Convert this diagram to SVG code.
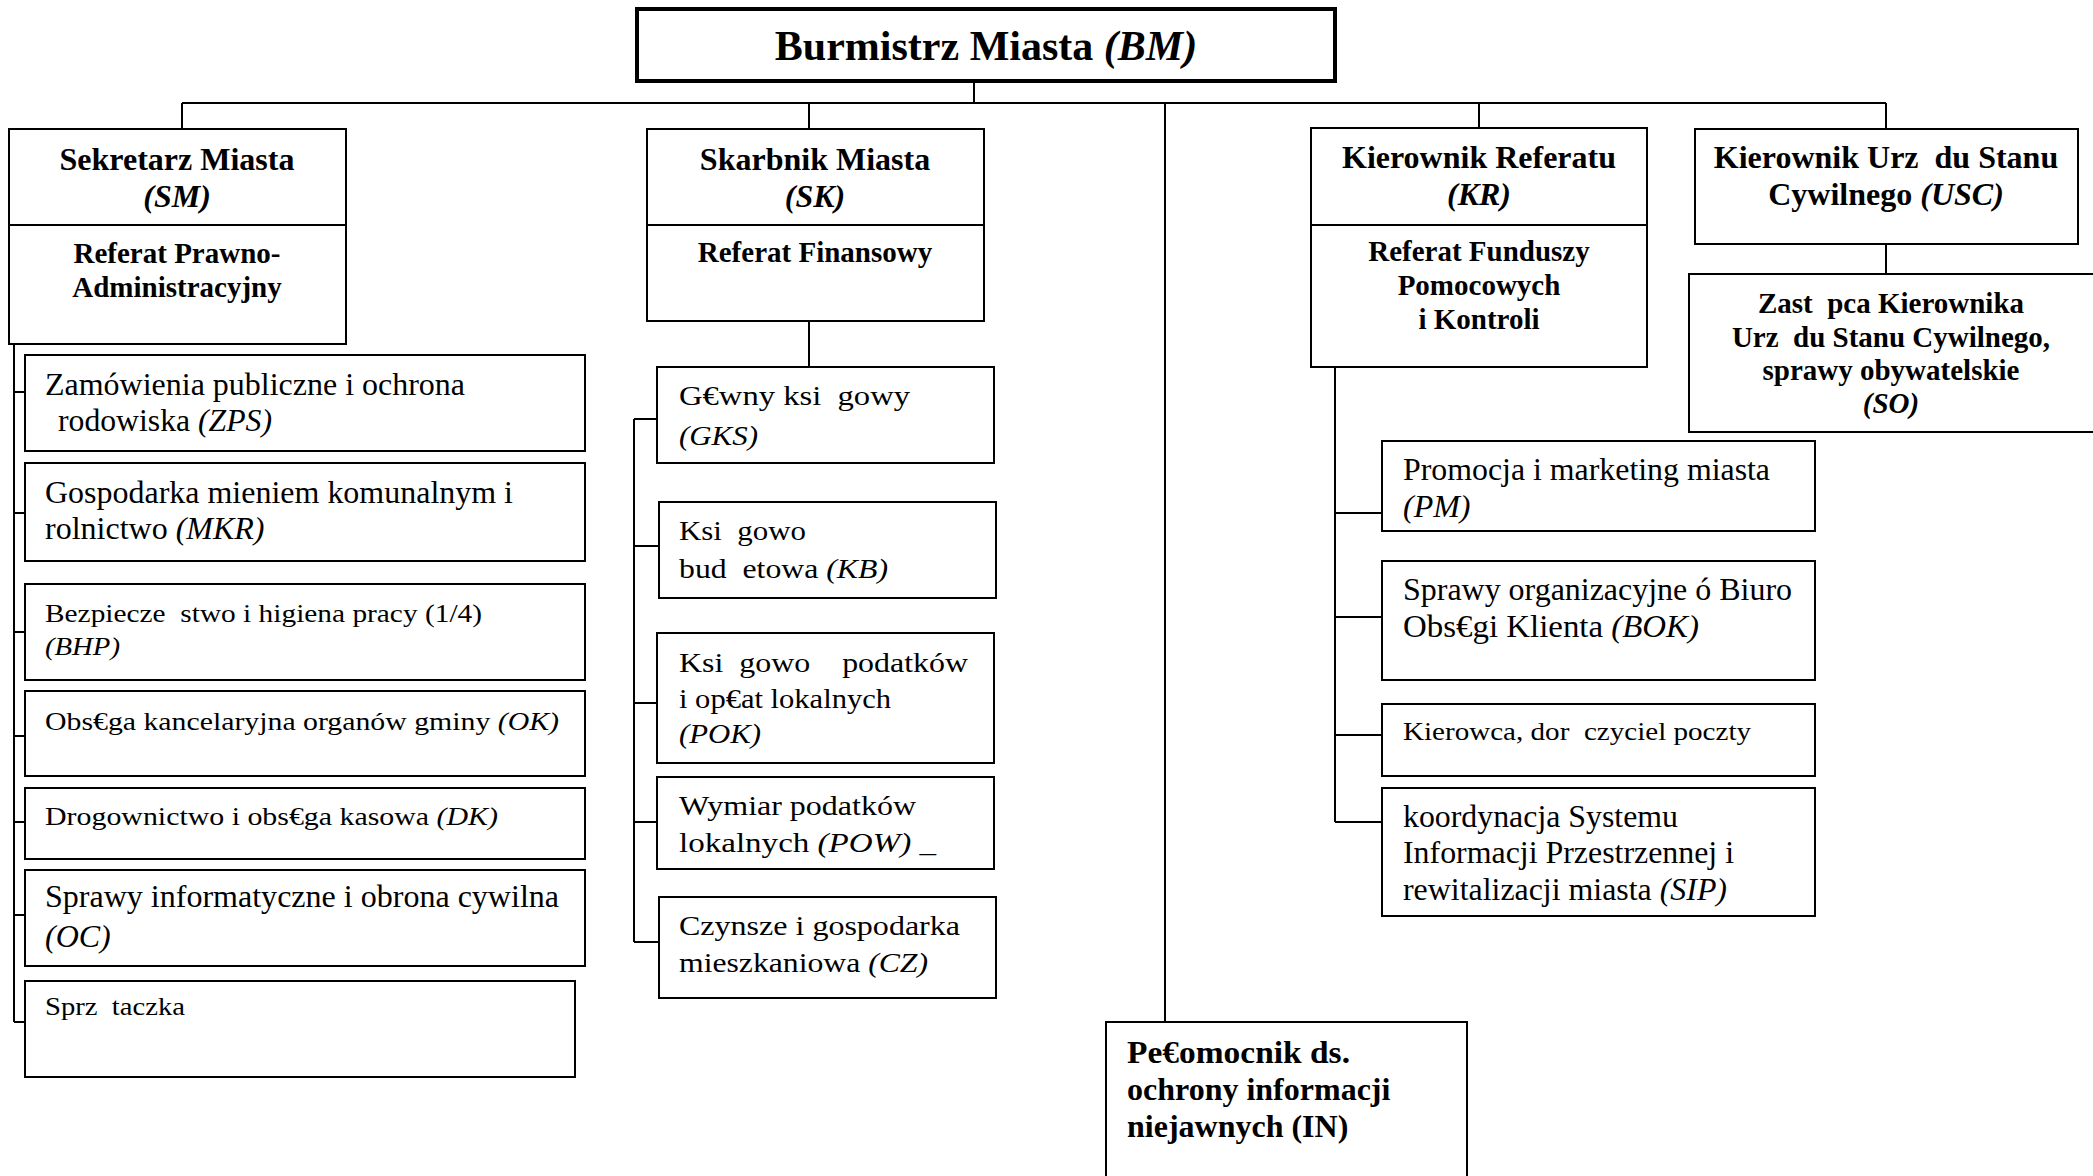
<svg xmlns="http://www.w3.org/2000/svg" width="2093" height="1176" viewBox="0 0 2093 1176">
<style>
.bg{fill:#fff}
.box{fill:#fff;stroke:#000;stroke-width:2}
.main{fill:#fff;stroke:#000;stroke-width:4}
.ln{fill:none;stroke:#000;stroke-width:2}
text{font-family:"Liberation Serif","Times New Roman",serif;fill:#000;white-space:pre}
.b{font-weight:bold}
.c{text-anchor:middle}
.i{font-style:italic}
.L{font-size:32px}
.S{font-size:26px}
.M{font-size:28px}
.H{font-size:32px;font-weight:bold;text-anchor:middle}
.h{font-size:29px;font-weight:bold;text-anchor:middle}
</style>
<rect class="bg" x="0" y="0" width="2093" height="1176"/>

<g id="connectors">
<path class="ln" d="M974 81V103M182 103H1886M182 103V129M809 103V129M1165 103V1022M1479 103V128M1886 103V129M1886 244V274"/>
<path class="ln" d="M14 344V1022M14 392H25M14 513H25M14 632H25M14 736H25M14 822H25M14 915H25M14 1022H25"/>
<path class="ln" d="M809 321V367M634 419V942M634 419H657M634 546H659M634 703H657M634 822H657M634 942H659"/>
<path class="ln" d="M1335 367V822M1335 513H1382M1335 617H1382M1335 735H1382M1335 822H1382"/>
</g>

<g id="BM">
<rect class="main" x="637" y="9" width="698" height="72"/>
<text class="b c" x="986" y="60" font-size="42">Burmistrz Miasta <tspan class="i">(BM)</tspan></text>
</g>

<g id="SM">
<rect class="box" x="9" y="129" width="337" height="215"/>
<path class="ln" d="M9 225H346"/>
<text class="H" x="177" y="170">Sekretarz Miasta</text>
<text class="H i" x="177" y="207">(SM)</text>
<text class="h" x="177" y="263">Referat Prawno-</text>
<text class="h" x="177" y="297">Administracyjny</text>
</g>

<g id="SK">
<rect class="box" x="647" y="129" width="337" height="192"/>
<path class="ln" d="M647 225H984"/>
<text class="H" x="815" y="170">Skarbnik Miasta</text>
<text class="H i" x="815" y="207">(SK)</text>
<text class="h" x="815" y="262">Referat Finansowy</text>
</g>

<g id="KR">
<rect class="box" x="1311" y="128" width="336" height="239"/>
<path class="ln" d="M1311 225H1647"/>
<text class="H" x="1479" y="168">Kierownik Referatu</text>
<text class="H i" x="1479" y="205">(KR)</text>
<text class="h" x="1479" y="261">Referat Funduszy</text>
<text class="h" x="1479" y="295">Pomocowych</text>
<text class="h" x="1479" y="329">i Kontroli</text>
</g>

<g id="USC">
<rect class="box" x="1695" y="129" width="383" height="115"/>
<text class="H" x="1886" y="168">Kierownik Urz  du Stanu</text>
<text class="H" x="1886" y="205">Cywilnego <tspan class="i">(USC)</tspan></text>
</g>

<g id="SO">
<rect class="box" x="1689" y="274" width="420" height="158"/>
<text class="h" x="1891" y="313">Zast  pca Kierownika</text>
<text class="h" x="1891" y="347">Urz  du Stanu Cywilnego,</text>
<text class="h" x="1891" y="380">sprawy obywatelskie</text>
<text class="h i" x="1891" y="413">(SO)</text>
</g>

<g id="IN">
<rect class="box" x="1106" y="1022" width="361" height="170"/>
<text class="L b" x="1127" y="1063" textLength="223" lengthAdjust="spacingAndGlyphs">Pe€omocnik ds.</text>
<text class="L b" x="1127" y="1100">ochrony informacji</text>
<text class="L b" x="1127" y="1137">niejawnych (IN)</text>
</g>

<g id="ZPS">
<rect class="box" x="25" y="355" width="560" height="96"/>
<text class="L" x="45" y="395" textLength="420" lengthAdjust="spacingAndGlyphs">Zamówienia publiczne i ochrona</text>
<text class="L" x="58" y="431" textLength="214" lengthAdjust="spacingAndGlyphs">rodowiska <tspan class="i">(ZPS)</tspan></text>
</g>
<g id="MKR">
<rect class="box" x="25" y="463" width="560" height="98"/>
<text class="L" x="45" y="503" textLength="468" lengthAdjust="spacingAndGlyphs">Gospodarka mieniem komunalnym i</text>
<text class="L" x="45" y="539">rolnictwo <tspan class="i">(MKR)</tspan></text>
</g>
<g id="BHP">
<rect class="box" x="25" y="584" width="560" height="96"/>
<text class="S" x="45" y="622" textLength="437" lengthAdjust="spacingAndGlyphs">Bezpiecze  stwo i higiena pracy (1/4)</text>
<text class="S i" x="45" y="655" textLength="75" lengthAdjust="spacingAndGlyphs">(BHP)</text>
</g>
<g id="OK">
<rect class="box" x="25" y="691" width="560" height="85"/>
<text class="S" x="45" y="730" textLength="514" lengthAdjust="spacingAndGlyphs">Obs€ga kancelaryjna organów gminy <tspan class="i">(OK)</tspan></text>
</g>
<g id="DK">
<rect class="box" x="25" y="788" width="560" height="71"/>
<text class="S" x="45" y="825" textLength="453" lengthAdjust="spacingAndGlyphs">Drogownictwo i obs€ga kasowa <tspan class="i">(DK)</tspan></text>
</g>
<g id="OC">
<rect class="box" x="25" y="870" width="560" height="96"/>
<text class="L" x="45" y="907" textLength="514" lengthAdjust="spacingAndGlyphs">Sprawy informatyczne i obrona cywilna</text>
<text class="L i" x="45" y="947">(OC)</text>
</g>
<g id="SPR">
<rect class="box" x="25" y="981" width="550" height="96"/>
<text class="S" x="45" y="1015" textLength="140" lengthAdjust="spacingAndGlyphs">Sprz  taczka</text>
</g>

<g id="GKS">
<rect class="box" x="657" y="367" width="337" height="96"/>
<text class="M" x="679" y="405" textLength="231" lengthAdjust="spacingAndGlyphs">G€wny ksi  gowy</text>
<text class="M i" x="679" y="445" textLength="79" lengthAdjust="spacingAndGlyphs">(GKS)</text>
</g>
<g id="KB">
<rect class="box" x="659" y="502" width="337" height="96"/>
<text class="M" x="679" y="540" textLength="127" lengthAdjust="spacingAndGlyphs">Ksi  gowo</text>
<text class="M" x="679" y="578" textLength="209" lengthAdjust="spacingAndGlyphs">bud  etowa <tspan class="i">(KB)</tspan></text>
</g>
<g id="POK">
<rect class="box" x="657" y="633" width="337" height="130"/>
<text class="M" x="679" y="672" textLength="289" lengthAdjust="spacingAndGlyphs">Ksi  gowo    podatków</text>
<text class="M" x="679" y="708" textLength="212" lengthAdjust="spacingAndGlyphs">i op€at lokalnych</text>
<text class="M i" x="679" y="743" textLength="82" lengthAdjust="spacingAndGlyphs">(POK)</text>
</g>
<g id="POW">
<rect class="box" x="657" y="777" width="337" height="92"/>
<text class="M" x="679" y="815" textLength="237" lengthAdjust="spacingAndGlyphs">Wymiar podatków</text>
<text class="M" x="679" y="852" textLength="257" lengthAdjust="spacingAndGlyphs">lokalnych <tspan class="i">(POW)</tspan> _</text>
</g>
<g id="CZ">
<rect class="box" x="659" y="897" width="337" height="101"/>
<text class="M" x="679" y="935" textLength="281" lengthAdjust="spacingAndGlyphs">Czynsze i gospodarka</text>
<text class="M" x="679" y="972" textLength="249" lengthAdjust="spacingAndGlyphs">mieszkaniowa <tspan class="i">(CZ)</tspan></text>
</g>

<g id="PM">
<rect class="box" x="1382" y="441" width="433" height="90"/>
<text class="L" x="1403" y="480" textLength="367" lengthAdjust="spacingAndGlyphs">Promocja i marketing miasta</text>
<text class="L i" x="1403" y="517">(PM)</text>
</g>
<g id="BOK">
<rect class="box" x="1382" y="561" width="433" height="119"/>
<text class="L" x="1403" y="600" textLength="389" lengthAdjust="spacingAndGlyphs">Sprawy organizacyjne ó Biuro</text>
<text class="L" x="1403" y="637" textLength="296" lengthAdjust="spacingAndGlyphs">Obs€gi Klienta <tspan class="i">(BOK)</tspan></text>
</g>
<g id="KIE">
<rect class="box" x="1382" y="704" width="433" height="72"/>
<text class="S" x="1403" y="740" font-size="27" textLength="348" lengthAdjust="spacingAndGlyphs">Kierowca, dor  czyciel poczty</text>
</g>
<g id="SIP">
<rect class="box" x="1382" y="788" width="433" height="128"/>
<text class="L" x="1403" y="827" textLength="275" lengthAdjust="spacingAndGlyphs">koordynacja Systemu</text>
<text class="L" x="1403" y="863" textLength="331" lengthAdjust="spacingAndGlyphs">Informacji Przestrzennej i</text>
<text class="L" x="1403" y="900" textLength="324" lengthAdjust="spacingAndGlyphs">rewitalizacji miasta <tspan class="i">(SIP)</tspan></text>
</g>
</svg>
